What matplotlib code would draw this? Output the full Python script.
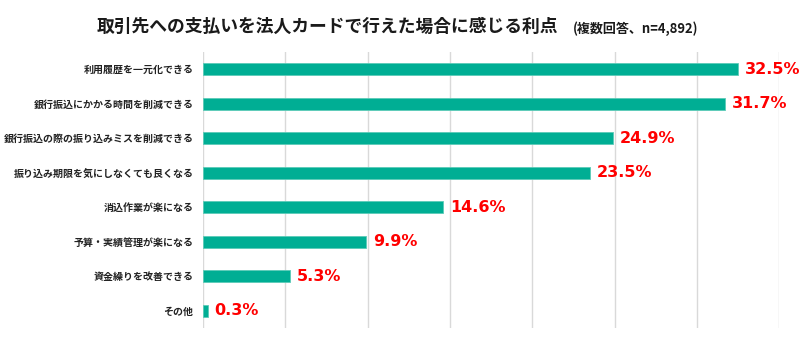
import numpy as np
import matplotlib
matplotlib.use('Agg')
import matplotlib.pyplot as plt

plt.rcParams['font.family'] = ['Noto Sans CJK JP', 'DejaVu Sans']

# data
categories = [
    '利用履歴を一元化できる',
    '銀行振込にかかる時間を削減できる',
    '銀行振込の際の振り込みミスを削減できる',
    '振り込み期限を気にしなくても良くなる',
    '消込作業が楽になる',
    '予算・実績管理が楽になる',
    '資金繰りを改善できる',
    'その他',
]
values = [32.5, 31.7, 24.9, 23.5, 14.6, 9.9, 5.3, 0.3]
title = '取引先への支払いを法人カードで行えた場合に感じる利点'
note = '(複数回答、n=4,892)'

fig = plt.figure(figsize=(8, 3.41), dpi=100)
ax = fig.add_axes([0.254, 0.038, 0.72, 0.8095])

y = np.arange(len(categories))
ax.barh(y, values, height=0.36, color='#00AE94', edgecolor='#5CCBB8', linewidth=0.6, zorder=3)

# labels next to bars
for yi, v in zip(y, values):
    ax.text(v + 0.4, yi, f'{v}%', va='center', ha='left', color='#FF0000',
            fontsize=11.5, fontweight='bold', family=['DejaVu Sans'], zorder=4)

ax.set_xlim(0, 35)
ax.set_ylim(len(categories) - 0.5, -0.5)
ax.set_xticks(np.arange(0, 36, 5))
ax.xaxis.grid(True, color='#D9D9D9', linewidth=1.0, zorder=0)
ax.tick_params(axis='x', length=0, labelbottom=False)
ax.tick_params(axis='y', length=0, pad=7)
ax.set_yticks(y)
ax.set_yticklabels(categories, fontsize=7.2, fontweight='bold', color='#222222')
for s in ax.spines.values():
    s.set_visible(False)

fig.text(0.121, 0.92, title, fontsize=12.8, fontweight='bold', color='#1a1a1a', va='center')
fig.text(0.716, 0.915, note, fontsize=9.4, fontweight='bold', color='#1a1a1a', va='center')

fig.savefig('out.png', dpi=100, facecolor='white')
